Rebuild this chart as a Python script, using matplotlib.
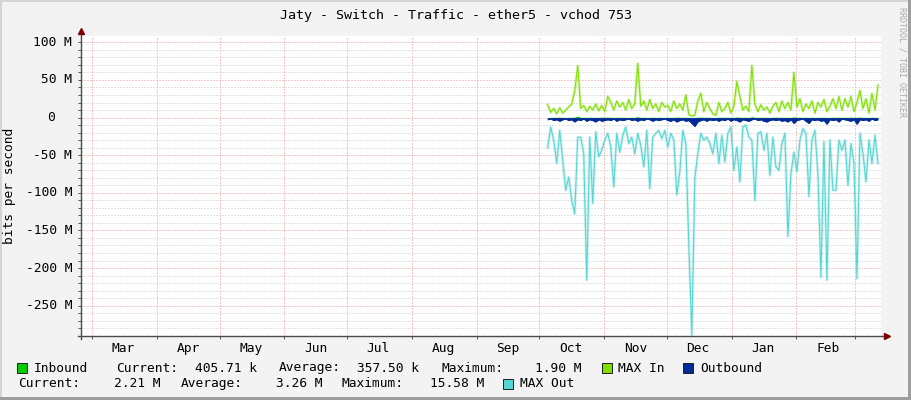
import numpy as np
import pandas as pd
import matplotlib
matplotlib.use('Agg')
import matplotlib.pyplot as plt
from matplotlib.patches import Rectangle

W, H = 911, 400

title = 'Jaty - Switch - Traffic - ether5 - vchod 753'
month_names = ['Mar', 'Apr', 'May', 'Jun', 'Jul', 'Aug', 'Sep', 'Oct', 'Nov', 'Dec', 'Jan', 'Feb']
month_starts = pd.date_range('2014-03-01', '2015-03-01', freq='MS')
sample_dates = pd.date_range('2014-10-05', '2015-03-12', periods=111)

ytick_values = [100, 50, 0, -50, -100, -150, -200, -250]
ytick_labels = ['100 M', '50 M', '0', '-50 M', '-100 M', '-150 M', '-200 M', '-250 M']

# values in Mbit/s
inbound = [0.3, 0.2, 0.4, 0.3, 0.5, 0.3, 0.2, 0.4, 0.3, 0.6,
           1.9, 0.3, 0.4, 0.2, 0.5, 0.3, 0.4, 0.3, 0.5, 0.4,
           0.6, 0.4, 0.2, 0.5, 0.3, 0.4, 0.3, 0.2, 0.4, 0.3,
           1.2, 0.3, 0.4, 0.2, 0.3, 0.5, 0.3, 0.4, 0.3, 0.2,
           0.4, 0.3, 0.3, 0.6, 0.4, 0.3, 0.5, 0.2, 0.1, 0.2,
           0.5, 0.6, 0.3, 0.5, 0.3, 0.2, 0.2, 0.5, 0.3, 0.4,
           0.4, 0.2, 0.3, 0.8, 0.5, 0.3, 0.4, 0.2, 1.1, 0.4,
           0.3, 0.4, 0.3, 0.5, 0.2, 0.4, 0.5, 0.3, 0.4, 0.3,
           0.4, 0.3, 0.9, 0.3, 0.5, 0.2, 0.4, 0.3, 0.4, 0.2,
           0.4, 0.3, 0.5, 0.2, 0.3, 0.5, 0.3, 0.5, 0.3, 0.4,
           0.3, 0.5, 0.2, 0.4, 0.6, 0.3, 0.4, 0.2, 0.5, 0.3,
           0.4]
max_in = [17, 7, 12, 5, 13, 6, 10, 14, 18, 35,
          69, 12, 16, 8, 15, 10, 18, 9, 16, 8,
          28, 20, 10, 22, 14, 20, 10, 24, 12, 18,
          72, 15, 22, 10, 24, 12, 18, 8, 20, 14,
          16, 8, 22, 12, 18, 10, 30, 4, 2, 3,
          22, 32, 8, 20, 12, 5, 3, 20, 8, 12,
          20, 6, 15, 48, 28, 10, 15, 8, 69, 18,
          8, 17, 10, 14, 6, 15, 20, 8, 22, 12,
          20, 10, 60, 14, 25, 8, 18, 12, 22, 6,
          20, 14, 24, 8, 15, 25, 12, 28, 10, 25,
          14, 28, 8, 20, 36, 12, 25, 6, 32, 10,
          43]
outbound = [3, 2, 4, 3, 5, 3, 2, 4, 3, 6,
            3, 4, 2, 5, 3, 4, 6, 3, 5, 4,
            3, 4, 2, 5, 3, 4, 3, 2, 4, 3,
            5, 3, 4, 2, 3, 5, 3, 4, 3, 2,
            4, 5, 3, 6, 4, 3, 5, 4, 8, 12,
            6, 4, 3, 5, 3, 4, 3, 5, 3, 4,
            2, 5, 3, 4, 6, 3, 4, 5, 3, 2,
            4, 3, 5, 6, 4, 3, 4, 3, 5, 4,
            6, 3, 8, 4, 3, 2, 5, 8, 3, 4,
            3, 5, 4, 9, 3, 4, 3, 6, 2, 3,
            4, 5, 3, 9, 3, 4, 3, 5, 2, 4,
            3]
max_out = [40, 12.5, 30, 61, 17, 57, 96.6, 79, 110, 128,
           26, 26, 48, 216, 26, 114, 19, 52, 43.5, 30,
           21, 39, 92, 21, 46, 23.5, 12.5, 34.6, 26, 48,
           21, 37, 65.6, 17, 94.4, 26, 21, 17, 28, 17,
           39, 21, 30, 103, 72, 17, 34.6, 170, 289, 80,
           48, 21, 30, 26, 34.6, 48, 21, 61, 23.5, 59,
           21, 12.5, 70, 39, 85.5, 12.5, 10, 26, 30, 110,
           21, 19, 43.5, 21, 77, 26, 65.6, 70, 34.6, 21,
           158, 75, 46, 72, 30, 14.6, 21, 105, 30, 17,
           75, 212, 32, 216, 30, 96.6, 96.6, 30, 43.5, 30,
           90, 34.6, 61, 214, 21, 48, 85.5, 30, 61, 23.5,
           61]

c_in = '#00CC00'
c_maxin = '#7FE000'
c_out = '#002A97'
c_maxout = '#55D6D3'
grid_minor = '#C6C6C6'
grid_major = '#EE9494'

plt.rcParams['font.family'] = ['DejaVu Sans Mono']
fs = 9.3

fig = plt.figure(figsize=(W / 100, H / 100), dpi=100, facecolor='#F3F3F3')
ax = fig.add_axes([81 / W, 1 - 336 / H, 800 / W, 300 / H])
ax.set_facecolor('white')

x = sample_dates
ax.fill_between(x, 0, inbound, color=c_in, lw=0, zorder=3)
ax.plot(x, max_in, color=c_maxin, lw=2.0, alpha=0.3, zorder=3)
ax.plot(x, max_in, color=c_maxin, lw=0.75, zorder=4)
ax.fill_between(x, 0, -np.array(outbound), color=c_out, lw=0, zorder=5)
ax.plot(x, -np.array(outbound), color=c_out, lw=0.6, zorder=5)
ax.plot(x, -np.array(max_out), color=c_maxout, lw=2.0, alpha=0.3, zorder=3)
ax.plot(x, -np.array(max_out), color=c_maxout, lw=0.75, zorder=4)

ax.set_xlim(pd.Timestamp('2014-03-01') - pd.Timedelta(days=5.26),
            pd.Timestamp('2015-03-01') + pd.Timedelta(days=12.44))
ax.set_ylim(-290.3, 108.4)

dots = (0, (1, 2))
ax.set_yticks(ytick_values)
ax.set_yticks(np.arange(-280, 101, 10), minor=True)
ax.grid(which='minor', axis='y', color=grid_minor, lw=0.72, ls=dots, zorder=1)
ax.grid(which='major', axis='y', color=grid_major, lw=0.72, ls=dots, zorder=1)
ax.set_xticks(month_starts)
ax.grid(which='major', axis='x', color=grid_major, lw=0.72, ls=dots, zorder=1)
ax.set_xticks(month_starts[:-1] + pd.Timedelta(days=15), minor=True, labels=month_names)
ax.set_axisbelow(True)

ax.tick_params(axis='y', which='both', direction='out', length=2.5, width=0.7,
               color='#555555', labelleft=False)
ax.tick_params(axis='x', which='major', direction='out', length=2.5, width=0.7,
               color='#555555', labelbottom=False)
ax.tick_params(axis='x', which='minor', length=0, labelsize=fs, pad=4.5)
for s in ax.spines.values():
    s.set_visible(False)

for v, lab in zip(ytick_values, ytick_labels):
    xo = -9 / 800 if lab.endswith('M') else -26 / 800
    ax.text(xo, v, lab, transform=ax.get_yaxis_transform(), ha='right', va='center',
            fontsize=fs)

# axis lines with arrows
ax.plot([-3 / 800, 1 + 4 / 800], [0, 0], transform=ax.transAxes, color='#4A4A4A',
        lw=1, clip_on=False, zorder=6)
ax.plot([0, 0], [-3 / 300, 1 + 4 / 300], transform=ax.transAxes, color='#4A4A4A',
        lw=1, clip_on=False, zorder=6)
ax.plot([1 + 6 / 800], [0], marker='>', ms=4.5, color='#7F0000', transform=ax.transAxes,
        clip_on=False, zorder=7)
ax.plot([0], [1 + 5 / 300], marker='^', ms=4.5, color='#7F0000', transform=ax.transAxes,
        clip_on=False, zorder=7)


def fx(px):
    return px / W


def fy(py):
    return 1 - py / H


def box(x0, y0, color):
    fig.add_artist(Rectangle((fx(x0), fy(y0 + 10)), 10 / W, 10 / H, transform=fig.transFigure,
                             facecolor=color, edgecolor='#202020', lw=0.7))


def strip(x0, y0, x1, y1, color):
    fig.add_artist(Rectangle((fx(x0), fy(y1)), (x1 - x0) / W, (y1 - y0) / H,
                             transform=fig.transFigure, facecolor=color, lw=0))


fig.text(fx(455.5), fy(15), title, ha='center', va='center', fontsize=9.6)
fig.text(fx(10), fy(186), 'bits per second', rotation=90, ha='center', va='center', fontsize=fs)
fig.text(fx(902), fy(62), 'RRDTOOL / TOBI OETIKER', rotation=270, ha='center', va='center',
         fontsize=6, color='#AAAAAA')

row1 = 368
row2 = 383.5
box(17, row1 - 5, c_in)
box(602, row1 - 5, c_maxin)
box(683, row1 - 5, c_out)
box(503, row2 - 5, c_maxout)
for px, txt in [(33.5, 'Inbound'), (116, 'Current:'), (195, '405.71 k'), (278.5, 'Average:'),
                (357, '357.50 k'), (441, 'Maximum:'), (535, '1.90 M'), (618.5, 'MAX In'),
                (700, 'Outbound')]:
    fig.text(fx(px), fy(row1), txt, ha='left', va='center', fontsize=fs)
for px, txt in [(18, 'Current:'), (113.5, '2.21 M'), (180.5, 'Average:'), (275.5, '3.26 M'),
                (341.5, 'Maximum:'), (430.5, '15.58 M'), (520, 'MAX Out')]:
    fig.text(fx(px), fy(row2), txt, ha='left', va='center', fontsize=fs)

# frame shading
strip(0, 0, W, 2, '#D4D4D4')
strip(0, 0, 2, H, '#D4D4D4')
strip(0, H - 3, W, H, '#9E9E9E')
strip(W - 3, 0, W, H, '#9E9E9E')

fig.savefig('out.png', dpi=100, facecolor=fig.get_facecolor())
